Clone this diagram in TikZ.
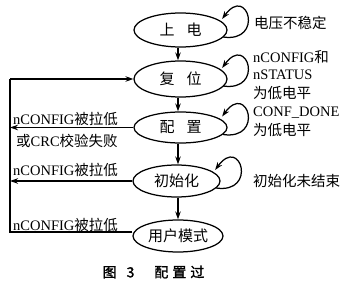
\documentclass[tikz,border=0pt]{standalone}
\usepackage{fontspec}
\setmainfont{Liberation Serif}
\newfontfamily\cjk{Noto Sans CJK SC}
\newfontfamily\cjkb{Noto Sans CJK SC}[FakeBold=1.6]
\usetikzlibrary{shapes.geometric,arrows.meta,calc}
\newcommand\zh[1]{{\cjk #1}}
\newcommand\selfloop[1]{\draw[arr] ($(#1.east)+(-4.5,7)$) .. controls ($(#1.east)+(37,13)$) and ($(#1.east)+(20,-46)$) .. ($(#1.east)+(-5.5,-11)$);}
\begin{document}
\begin{tikzpicture}[x=1pt,y=-1pt,
  state/.style={ellipse,draw,line width=1.25pt,inner sep=0pt,font=\cjk\fontsize{15}{18}\selectfont},
  arr/.style={line width=1.25pt,-{Stealth[length=8pt,width=5.5pt]}},
  ln/.style={line width=1.25pt},
  lbl/.style={inner sep=0pt,anchor=west,font=\fontsize{14.5}{17}\selectfont}]
\useasboundingbox (0,0) rectangle (350,291);
% states
\node[state,minimum width=93pt,minimum height=34pt] (sd) at (180.5,30) {上\hspace{12pt}电};
\node[state,minimum width=93pt,minimum height=36pt] (fw) at (180.5,79) {复\hspace{12pt}位};
\node[state,minimum width=93pt,minimum height=31pt] (pz) at (180.5,127.5) {配\hspace{12pt}置};
\node[state,minimum width=87pt,minimum height=32pt] (csh) at (176.5,181) {初始化};
\node[state,minimum width=90pt,minimum height=32pt] (yh) at (178,236) {用户模式};
% column for vertical arrows
\coordinate (X) at (178,0);
\draw[arr] (sd.south -| X) -- (fw.north -| X);
\draw[arr] (fw.south -| X) -- (pz.north -| X);
\draw[arr] (pz.south -| X) -- (csh.north -| X);
\draw[arr] (csh.south -| X) -- (yh.north -| X);
% self loops
\selfloop{sd}
\selfloop{fw}
\selfloop{pz}
\selfloop{csh}
% left feedback
\coordinate (L1) at (10,79);
\coordinate (L4) at (10,232);
\coordinate (L2) at (10,127.5);
\coordinate (L3) at (10,181);
\draw[ln] (L4 -| yh.west) -- (L4) -- (L1);
\draw[arr] (L1) -- (fw.west);
\draw[arr] (pz.west) -- (L2);
\draw[arr] (csh.west) -- (L3);
% left labels
\node[lbl] (t1) at (13,119) {nCONFIG\zh{被拉低}};
\node[lbl] (t2) at (16,141) {\zh{或}CRC\zh{校验失败}};
\node[lbl] (t3) at (13,170) {nCONFIG\zh{被拉低}};
\node[lbl] (t4) at (13,225) {nCONFIG\zh{被拉低}};
% right labels
\node[lbl] (r1) at (254,23) {\zh{电压不稳定}};
\node[lbl] (r2) at (253,57) {nCONFIG\zh{和}};
\node[lbl] (r3) at (253,75) {nSTATUS};
\node[lbl] (r4) at (253,93) {\zh{为低电平}};
\node[lbl] (r5) at (253,113) {CONF\_DONE};
\node[lbl] (r6) at (253,130) {\zh{为低电平}};
\node[lbl] (r7) at (253,181) {\zh{初始化未结束}};
% caption
\node[inner sep=0pt,font=\cjkb\fontsize{14}{16}\selectfont] (cap) at (153.5,272) {图\hspace{10pt}3\hspace{20pt}配\hspace{4pt}置\hspace{4pt}过};
\end{tikzpicture}
\end{document}
